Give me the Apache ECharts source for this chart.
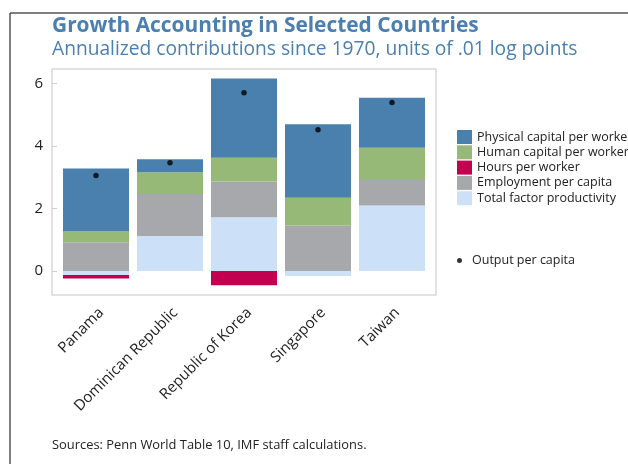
<!DOCTYPE html>
<html>
<head>
<meta charset="utf-8">
<script src="https://cdn.jsdelivr.net/npm/echarts@6/dist/echarts.min.js"></script>
<style>html,body{margin:0;padding:0;background:#fff;}#c{width:628px;height:464px;}</style>
</head>
<body>
<div id="c"></div>
<script>
const categories = ['Panama', 'Dominican Republic', 'Republic of Korea', 'Singapore', 'Taiwan'];
const tfp        = [-0.13, 1.12, 1.72, -0.16, 2.09];
const employment = [0.92, 1.34, 1.14, 1.45, 0.82];
const hours      = [-0.11, 0, -0.46, 0, 0];
const human      = [0.36, 0.70, 0.76, 0.89, 1.03];
const physical   = [2.00, 0.41, 2.54, 2.35, 1.60];
const output     = [3.05, 3.46, 5.70, 4.52, 5.39];
const yTicks     = [0, 2, 4, 6];

const FONT = 'Open Sans';
const chart = echarts.init(document.getElementById('c'), null, {renderer: 'canvas'});
const yMin = -0.77, yMax = 6.46;
const barW = 66;
function barSeries(name, data, color) {
  return {name, type: 'bar', stack: 'g', data, barWidth: barW, xAxisIndex: 1, yAxisIndex: 1,
    itemStyle: {color}, emphasis: {disabled: true}};
}
chart.setOption({
  animation: false,
  textStyle: {fontFamily: FONT},
  title: [
    {text: 'Growth Accounting in Selected Countries', left: 47, top: 11,
     textStyle: {fontFamily: FONT, fontWeight: 'bold', fontSize: 20.9, color: '#4a7fb0'}},
    {text: 'Annualized contributions since 1970, units of .01 log points', left: 47, top: 35,
     textStyle: {fontFamily: FONT, fontWeight: 'normal', fontSize: 19.2, color: '#4a7fb0'}},
    {text: 'Sources: Penn World Table 10, IMF staff calculations.', left: 47, top: 434,
     textStyle: {fontFamily: FONT, fontWeight: 'normal', fontSize: 12.9, color: '#222'}}
  ],
  graphic: [
    {type: 'line', shape: {x1: 10, y1: 13, x2: 628, y2: 13}, style: {stroke: '#555', lineWidth: 1.5}},
    {type: 'line', shape: {x1: 10, y1: 13, x2: 10, y2: 464}, style: {stroke: '#555', lineWidth: 1.5}}
  ],
  legend: [
    {data: ['Physical capital per worker', 'Human capital per worker', 'Hours per worker', 'Employment per capita', 'Total factor productivity'],
     orient: 'vertical', left: 452, top: 125, itemWidth: 15, itemHeight: 14, itemGap: 1.3,
     icon: 'rect', selectedMode: false,
     textStyle: {fontFamily: FONT, fontSize: 12.5, color: '#222', padding: [0, 0, 0, 0]}},
    {data: ['Output per capita'], orient: 'vertical', left: 452, top: 249, itemWidth: 15, itemHeight: 5,
     icon: 'circle', selectedMode: false,
     textStyle: {fontFamily: FONT, fontSize: 12.5, color: '#222', padding: [0, 0, 0, 0]}}
  ],
  grid: [
    {left: 52, top: 69, width: 384, height: 226, show: true, borderColor: '#d9d9d9', borderWidth: 1.5, containLabel: false},
    {left: 59, top: 69, width: 370, height: 226, containLabel: false}
  ],
  xAxis: [
    {type: 'value', gridIndex: 0, show: false, min: 0, max: 1},
    {type: 'category', gridIndex: 1, data: categories,
     axisLine: {show: false}, axisTick: {show: false},
     axisLabel: {rotate: 45, margin: 10, fontSize: 15, color: '#222', fontFamily: FONT, interval: 0,
                 verticalAlign: 'top'}}
  ],
  yAxis: [
    {type: 'value', gridIndex: 0, min: yMin, max: yMax,
     axisLine: {show: false}, splitLine: {show: false},
     axisTick: {show: true, inside: true, length: 5, customValues: yTicks, lineStyle: {color: '#cfcfcf'}},
     axisLabel: {customValues: yTicks, margin: 9, fontSize: 15, color: '#222', fontFamily: FONT}},
    {type: 'value', gridIndex: 1, min: yMin, max: yMax, show: false}
  ],
  series: [
    barSeries('Total factor productivity', tfp, '#cce0f8'),
    barSeries('Employment per capita', employment, '#a7a8ab'),
    barSeries('Hours per worker', hours, '#c2004f'),
    barSeries('Human capital per worker', human, '#96b978'),
    barSeries('Physical capital per worker', physical, '#4a80ae'),
    {name: 'Output per capita', type: 'scatter', data: output, xAxisIndex: 1, yAxisIndex: 1,
     symbol: 'circle', symbolSize: 5.5, itemStyle: {color: '#000'}, z: 5, emphasis: {disabled: true}}
  ]
});
</script>
</body>
</html>
